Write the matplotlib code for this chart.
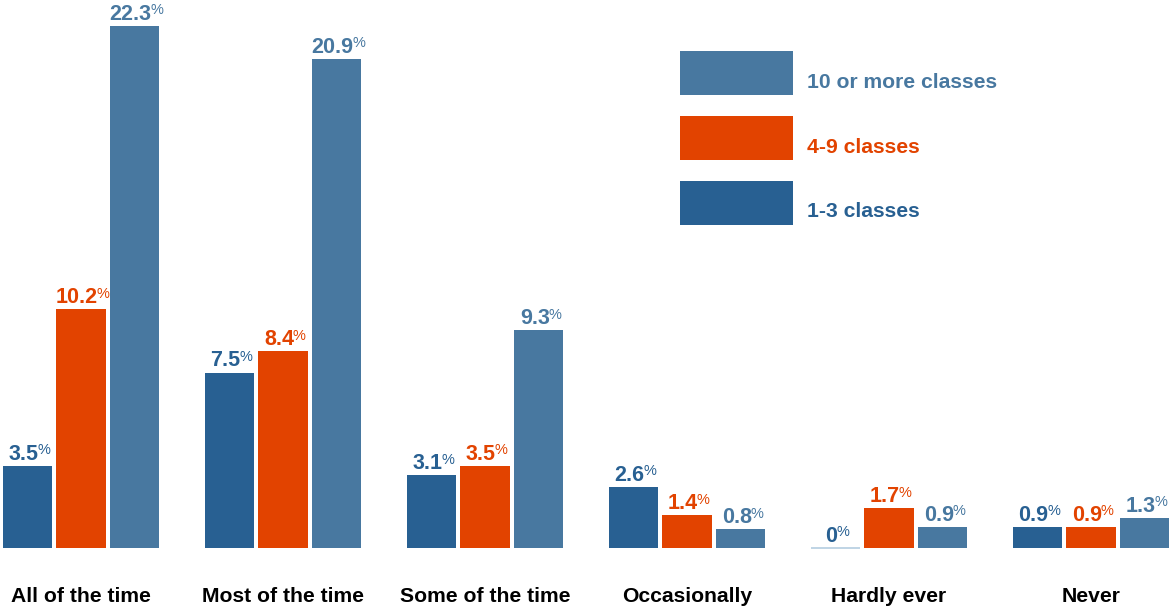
import numpy as np
import matplotlib
matplotlib.use("Agg")
import matplotlib.pyplot as plt
from matplotlib.patches import Rectangle
from matplotlib.transforms import offset_copy

# Daten
categories = ["All of the time", "Most of the time", "Some of the time",
              "Occasionally", "Hardly ever", "Never"]
ones_three = [3.5, 7.5, 3.1, 2.6, 0, 0.9]
four_nine = [10.2, 8.4, 3.5, 1.4, 1.7, 0.9]
ten_plus = [22.3, 20.9, 9.3, 0.8, 0.9, 1.3]

series_labels = ["1-3 classes", "4-9 classes", "10 or more classes"]
series_colors = ["#286092", "#e24300", "#4878a0"]

plt.rcParams['font.family'] = ['Liberation Sans', 'DejaVu Sans']
plt.rcParams['font.weight'] = 'bold'

W, H = 1170, 606
fig = plt.figure(figsize=(W / 100, H / 100), dpi=100)
ax = fig.add_axes([0, 0, 1, 1])
ax.axis('off')

# eine Gruppe = 202 px, Nulllinie bei 548 px, 23.4 px pro Prozent
ax.set_xlim(-81 / 202, (W - 81) / 202)
ax.set_ylim(-58 / 23.4, 548 / 23.4)

x = np.arange(len(categories))
width = 0.243
offsets = [-0.266, 0.0, 0.266]
values = [ones_three, four_nine, ten_plus]

label_tr = offset_copy(ax.transData, fig=fig, x=-4, y=6, units='dots')

for vals, off, col in zip(values, offsets, series_colors):
    bars = ax.bar(x + off, vals, width, color=col, linewidth=0)
    for b, v in zip(bars, vals):
        if v == 0:
            b.set_edgecolor("#b4cde0")
            b.set_linewidth(1.2)
        cx = b.get_x() + b.get_width() / 2
        txt = ax.text(cx, v, f"{v:g}", transform=label_tr, ha='center',
                      va='baseline', fontsize=15.5, color=col, fontweight='bold')
        ax.annotate('%', xy=(1, 1), xycoords=txt, xytext=(-0.8, 0.5),
                    textcoords='offset points', ha='left', va='top',
                    fontsize=10.5, color=col, fontweight='normal')

# Kategorienbeschriftung
for xi, name in zip(x, categories):
    ax.text(xi, -(602 - 548) / 23.4, name, ha='center',
            va='baseline', fontsize=15.2, color='black', fontweight='bold')

# Legende
legend_rows = [(51, 88, 2), (116, 153, 1), (181, 217, 0)]
for top, base, k in legend_rows:
    ax.add_patch(Rectangle((680 / W, 1 - (top + 44) / H), 113 / W, 44 / H,
                           transform=ax.transAxes, color=series_colors[k],
                           linewidth=0))
    ax.text(807 / W, 1 - base / H, series_labels[k], transform=ax.transAxes,
            ha='left', va='baseline', fontsize=15.2, color=series_colors[k],
            fontweight='bold')

fig.savefig("out.png", dpi=100)
